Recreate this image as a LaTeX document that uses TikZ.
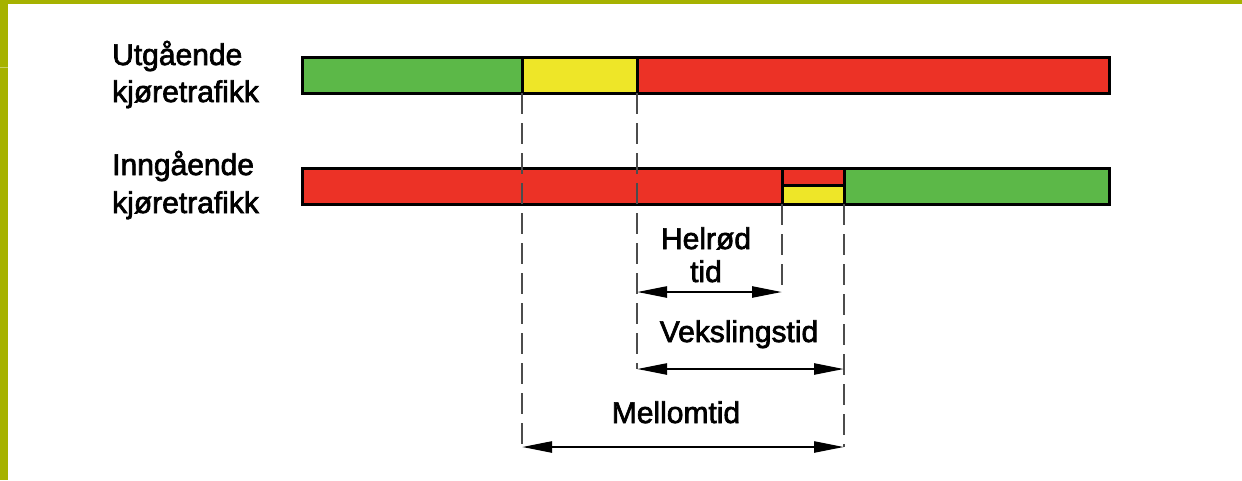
\documentclass[tikz,border=0pt]{standalone}
\usepackage{fontspec}
\newfontfamily\lblfont{Liberation Sans}[FakeBold=2.2]
\usetikzlibrary{arrows.meta}
\definecolor{frameolive}{RGB}{166,178,0}
\definecolor{sgreen}{RGB}{92,184,72}
\definecolor{syellow}{RGB}{238,230,40}
\definecolor{sred}{RGB}{236,50,38}
\begin{document}
\begin{tikzpicture}[x=1pt,y=-1pt,
  bar/.style={draw=black, line width=3pt, line join=miter},
  guide/.style={draw=black!70, line width=1.3pt, dash pattern=on 21pt off 9pt},
  span/.style={draw=black, line width=2.4pt,
    {Triangle[length=30pt,width=11pt]}-{Triangle[length=30pt,width=11pt]}},
  lbl/.style={font=\lblfont\fontsize{30}{36}\selectfont, inner sep=0pt, text=black}]
\useasboundingbox (0,0) rectangle (1242,480);

% frame strips
\fill[frameolive] (0,0) rectangle (1242,4);
\fill[frameolive] (0,0) rectangle (8,480);
\draw[frameolive!60!white, line width=1pt] (0,67) -- (8,67);

% time marks
\coordinate (a) at (522,93);
\coordinate (b) at (637,93);
\coordinate (c) at (782,204);
\coordinate (d) at (844,204);
\coordinate (aM) at (522,447);
\coordinate (dM) at (844,447);
\coordinate (bV) at (637,369);
\coordinate (dV) at (844,369);
\coordinate (bH) at (637,292);
\coordinate (cH) at (782,292);

% outgoing traffic signal
\fill[sgreen]  (302,57) rectangle (522,93);
\fill[syellow] (522,57) rectangle (637,93);
\fill[sred]    (637,57) rectangle (1109,93);
\draw[bar] (302,57) rectangle (1109,93);
\draw[bar] (522,57) -- (522,93);
\draw[bar] (637,57) -- (637,93);

% incoming traffic signal
\fill[sred]    (302,168) rectangle (782,204);
\fill[sred]    (782,168) rectangle (844,185);
\fill[syellow] (782,185) rectangle (844,204);
\fill[sgreen]  (844,168) rectangle (1109,204);
\draw[bar] (302,168) rectangle (1109,204);
\draw[bar] (782,168) -- (782,204);
\draw[bar] (844,168) -- (844,204);
\draw[bar] (782,185) -- (844,185);

% guide lines
\draw[guide] (a) -- (aM);
\draw[guide] (b) -- (bV);
\draw[guide] (c) -- (cH);
\draw[guide] (d) -- (dM);

% spans
\draw[span] (bH) -- (cH);
\draw[span] (bV) -- (dV);
\draw[span] (aM) -- (dM);

% labels
\node[lbl, anchor=base west] (ut1) at (112,65) {Utgående};
\node[lbl, anchor=base west] (ut2) at (112,102) {kjøretrafikk};
\node[lbl, anchor=base west] (inn1) at (112,175) {Inngående};
\node[lbl, anchor=base west] (inn2) at (112,213) {kjøretrafikk};
\node[lbl, anchor=base] (hr1) at (706,249) {Helrød};
\node[lbl, anchor=base] (hr2) at (706,282) {tid};
\node[lbl, anchor=base] (vt) at (739,342) {Vekslingstid};
\node[lbl, anchor=base] (mt) at (676,423) {Mellomtid};
\end{tikzpicture}
\end{document}
